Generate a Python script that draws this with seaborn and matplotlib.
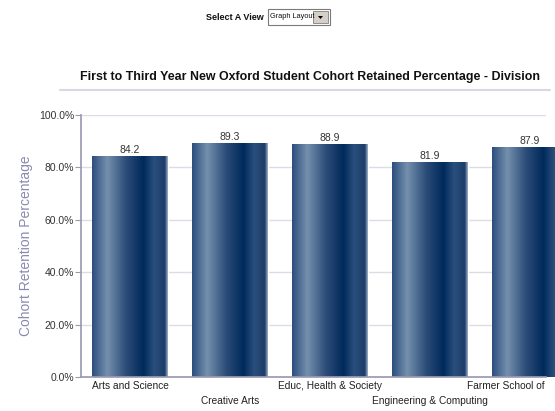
import numpy as np
import matplotlib
matplotlib.use("Agg")
import matplotlib.pyplot as plt
import seaborn as sns
import pandas as pd
from matplotlib.colors import LinearSegmentedColormap
from matplotlib.transforms import ScaledTranslation
from matplotlib.patches import Rectangle, Polygon

divisions = ["Arts and Science", "Creative Arts", "Educ, Health & Society",
             "Engineering & Computing", "Farmer School of"]
retention = [84.2, 89.3, 88.9, 81.9, 87.9]
y_ticks = [0, 20, 40, 60, 80, 100]

df = pd.DataFrame({"division": divisions, "retention": retention})

sns.set_theme(style="white")
plt.rcParams['font.family'] = ['Liberation Sans', 'DejaVu Sans']

fig = plt.figure(figsize=(5.55, 4.11), dpi=100)
ax = fig.add_axes([81/555, 1-377/411, (546-81)/555, (377-115)/411])

sns.barplot(data=df, x="division", y="retention", color="#1f3f6c",
            width=0.76, ax=ax, saturation=1)

# gradient overlay on each bar
grad = LinearSegmentedColormap.from_list("g", [
    (0.0, "#2c4e7e"), (0.2, "#7590ad"), (0.45, "#2b4c78"),
    (0.68, "#002a5b"), (0.82, "#2a4f7c"), (0.96, "#1c3c69"), (1.0, "#9fb1c8")])
gimg = np.linspace(0, 1, 256).reshape(1, -1)
for p in ax.patches:
    x0, y0 = p.get_x(), p.get_y()
    w, h = p.get_width(), p.get_height()
    im = ax.imshow(gimg, cmap=grad, aspect="auto",
                   extent=[x0, x0 + w, y0, y0 + h], zorder=p.get_zorder() + 0.1)
    im.set_clip_path(p)

for i, v in enumerate(retention):
    ax.text(i, v + 0.4, f"{v:.1f}", ha="center", va="bottom",
            fontsize=7.5, color="#333333")

ax.set_xlim(-0.49, 4.16)
ax.set_ylim(0, 100)
ax.set_yticks(y_ticks)
ax.set_yticklabels([f"{t:.1f}%" for t in y_ticks], fontsize=7.5, color="#333333")
ax.yaxis.grid(True, color="#dcdce6", linewidth=1)
ax.set_axisbelow(True)
ax.tick_params(axis="y", length=4, color="#9a9ab4", width=0.8, pad=1, left=True)
ax.tick_params(axis="x", length=0, pad=3)
for s in ["top", "right"]:
    ax.spines[s].set_visible(False)
ax.spines["left"].set_color("#9a9ab4")
ax.spines["bottom"].set_color("#9a9ab4")
ax.set_xlabel("")
ax.set_ylabel("Cohort Retention Percentage", fontsize=10, color="#8a8ab0", labelpad=4)

labels = ax.set_xticklabels(divisions, fontsize=7.3, color="#222222")
for i, lab in enumerate(labels):
    if i % 2 == 1:
        lab.set_y(-0.055)
last = labels[-1]
last.set_horizontalalignment("right")
last.set_transform(last.get_transform() + ScaledTranslation(15/100, 0, fig.dpi_scale_trans))

# title and underline
fig.text(310/555, 1-77/411, "First to Third Year New Oxford Student Cohort Retained Percentage - Division",
         ha="center", va="center", fontsize=8.9, fontweight="bold", color="#111111")
fig.add_artist(plt.Line2D([60/555, 550/555], [1-90/411, 1-90/411], transform=fig.transFigure,
                          color="#d8d8e4", linewidth=1.5))

# "Select A View" control
fig.text(264/555, 1-17/411, "Select A View", ha="right", va="center", fontsize=6.5,
         fontweight="bold", color="#111111")
fig.add_artist(Rectangle((268/555, 1-25/411), 62/555, 16/411, transform=fig.transFigure,
                         facecolor="white", edgecolor="#7a7a7a", linewidth=0.8))
fig.text(270/555, 1-17/411, "Graph Layout", ha="left", va="center", fontsize=5.3,
         color="#111111")
fig.add_artist(Rectangle((313/555, 1-23/411), 15/555, 12/411, transform=fig.transFigure,
                         facecolor="#d4d0c8", edgecolor="#808080", linewidth=0.6))
fig.add_artist(Polygon([[318/555, 1-16/411], [323/555, 1-16/411], [320.5/555, 1-19/411]],
                       closed=True, transform=fig.transFigure, facecolor="black",
                       edgecolor="none"))

fig.savefig("out.png", dpi=100)
